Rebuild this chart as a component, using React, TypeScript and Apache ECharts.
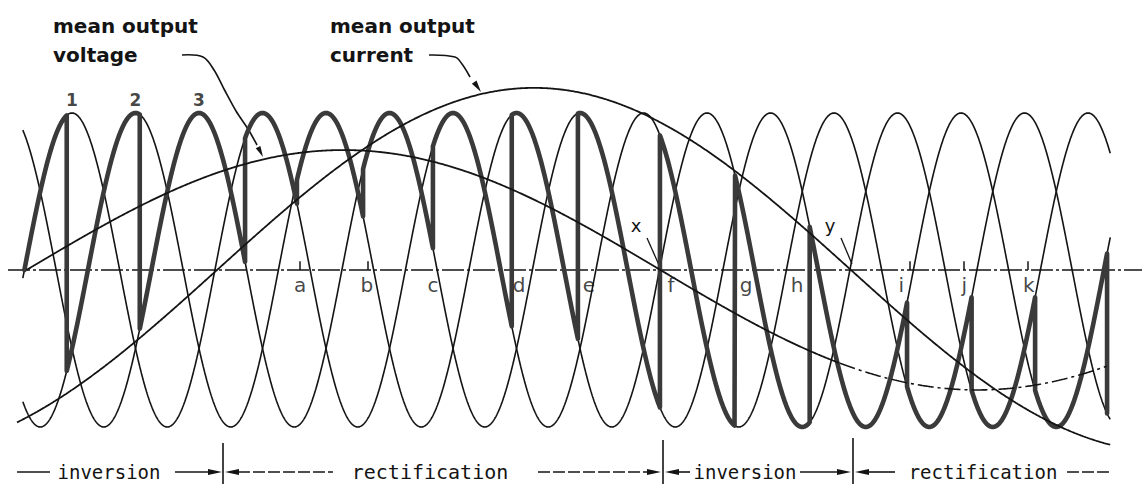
import React, { useEffect, useRef } from "react";
import * as echarts from "echarts";

// Three-phase supply, unit amplitude; abscissa in supply electrical degrees
const PHASE_LAG_DEG = [0, 120, 240];
const PHASE_SPAN_DEG = [-3, 2052];
const PEAK_LABELS = ["1", "2", "3"];
const PEAK_LABEL_DEG = [90, 210, 330];
const PEAK_LABEL_LEVEL = 1.08;

// Cycloconverter output: phase conducting between successive firing instants
const OUTPUT_PHASE = [0, 1, 2, 0, 1, 2, 0, 1, 2, 0, 1, 2, 0, 1, 2, 0];
const OUTPUT_SWITCH_DEG = [0, 80, 218, 417, 515, 640, 772, 921, 1046, 1201, 1343, 1484, 1668, 1790, 1910, 2046, 2046];

// Mean output voltage and current (low-frequency components)
const OUTPUT_HALF_PERIOD_DEG = 1198;
const VOLTAGE_AMPLITUDE = 0.764;
const VOLTAGE_ZERO_DEG = 4;
const VOLTAGE_SPAN_DEG = [4, 1541, 2046];
const CURRENT_AMPLITUDE = 1.16;
const CURRENT_ZERO_DEG = 364;
const CURRENT_SPAN_DEG = [-14, 2052];

// Reference axis, instants marked along it
const AXIS_SPAN_DEG = [-31, 2112];
const POINT_LABELS = ["a", "b", "c", "d", "e", "f", "g", "h", "i", "j", "k"];
const POINT_LABEL_DEG = [521, 647, 772, 935, 1067, 1222, 1364, 1460, 1657, 1776, 1898];
const POINT_LABEL_LEVEL = -0.098;
const TICK_DEG = [521, 649, 1673, 1776, 1897];

const X_MIN = -46.11;
const X_MAX = 2112.0;
const Y_MIN = -1.3631;
const Y_MAX = 1.7197;

const INK = "#141414";
const BOLD_INK = "#3a3a3a";

const RAD = Math.PI / 180;
const phaseValue = (k: number, t: number) => Math.sin((t - PHASE_LAG_DEG[k]) * RAD);
const meanVoltage = (t: number) =>
  VOLTAGE_AMPLITUDE * Math.sin((Math.PI * (t - VOLTAGE_ZERO_DEG)) / OUTPUT_HALF_PERIOD_DEG);
const meanCurrent = (t: number) =>
  CURRENT_AMPLITUDE * Math.sin((Math.PI * (t - CURRENT_ZERO_DEG)) / OUTPUT_HALF_PERIOD_DEG);

function sample(f: (t: number) => number, from: number, to: number, step = 1): number[][] {
  const pts: number[][] = [];
  for (let t = from; t < to; t += step) pts.push([t, f(t)]);
  pts.push([to, f(to)]);
  return pts;
}

function buildOutput(): number[][] {
  const pts: number[][] = [];
  for (let s = 0; s < OUTPUT_PHASE.length; s++) {
    const k = OUTPUT_PHASE[s];
    pts.push(...sample((t) => phaseValue(k, t), OUTPUT_SWITCH_DEG[s], OUTPUT_SWITCH_DEG[s + 1]));
  }
  return pts;
}

const TEXT_TOP = 'bold 20px "DejaVu Sans"';
const TEXT_BOTTOM = '19px "DejaVu Sans Mono"';

function text(str: string, x: number, y: number, font: string, align = "left") {
  return {
    type: "text",
    x,
    y,
    silent: true,
    style: {
      text: str,
      font,
      fill: INK,
      align,
      verticalAlign: "middle",
      textAlign: align,
      textVerticalAlign: "middle",
    },
  };
}

function seg(x1: number, y1: number, x2: number, y2: number, width = 1.5, dash?: number[]) {
  return {
    type: "line",
    silent: true,
    shape: { x1, y1, x2, y2 },
    style: { stroke: INK, lineWidth: width, lineDash: dash },
  };
}

function arrowHead(tipX: number, tipY: number, dx: number, dy: number, len = 12, half = 3) {
  const n = Math.hypot(dx, dy);
  const ux = dx / n;
  const uy = dy / n;
  const bx = tipX - ux * len;
  const by = tipY - uy * len;
  return {
    type: "polygon",
    silent: true,
    shape: {
      points: [
        [tipX, tipY],
        [bx - uy * half, by + ux * half],
        [bx + uy * half, by - ux * half],
      ],
    },
    style: { fill: INK },
  };
}

function leader(points: number[][]) {
  return {
    type: "polyline",
    silent: true,
    shape: { points, smooth: 0.35 },
    style: { stroke: INK, lineWidth: 1.6, fill: null },
  };
}

function buildGraphic() {
  const yRow = 472;
  return [
    // annotations above the waveforms
    text("mean output", 53, 26, TEXT_TOP),
    text("voltage", 53, 55, TEXT_TOP),
    text("mean output", 330, 26, TEXT_TOP),
    text("current", 330, 55, TEXT_TOP),
    leader([
      [182, 55],
      [203, 57],
      [214, 70],
      [224, 89],
      [236, 111],
      [248, 129],
      [257, 145],
    ]),
    arrowHead(263, 157, 6, 12, 11, 2.6),
    leader([
      [429, 55],
      [455, 57],
      [462, 64],
      [470, 77],
    ]),
    arrowHead(481, 92, 11, 16, 12, 2.8),
    text("x", 636, 225, '18px "DejaVu Sans"', "center"),
    seg(647, 238, 659, 265, 1.3),
    text("y", 830, 225, '18px "DejaVu Sans"', "center"),
    seg(841, 238, 852, 264, 1.3),

    // operating modes along the bottom
    seg(17, yRow, 50, yRow, 1.6),
    text("inversion", 109, yRow, TEXT_BOTTOM, "center"),
    seg(175, yRow, 212, yRow, 1.6),
    arrowHead(222, yRow, 1, 0, 14, 3),
    seg(223, 443, 223, 484, 1.6),
    arrowHead(225, yRow, -1, 0, 14, 3),
    seg(238, yRow, 333, yRow, 1.4, [12, 3]),
    text("rectification", 430, yRow, '20px "DejaVu Sans Mono"', "center"),
    seg(538, yRow, 650, yRow, 1.4, [12, 3]),
    arrowHead(661, yRow, 1, 0, 14, 3),
    seg(663, 440, 663, 484, 1.6),
    arrowHead(665, yRow, -1, 0, 14, 3),
    seg(678, yRow, 690, yRow, 1.6),
    text("inversion", 745, yRow, TEXT_BOTTOM, "center"),
    seg(800, yRow, 840, yRow, 1.6),
    arrowHead(851, yRow, 1, 0, 14, 3),
    seg(853, 438, 853, 484, 1.6),
    arrowHead(855, yRow, -1, 0, 14, 3),
    seg(868, yRow, 895, yRow, 1.6),
    text("rectification", 983, yRow, TEXT_BOTTOM, "center"),
    seg(1067, yRow, 1112, yRow, 1.4, [12, 3]),
  ];
}

function buildOption() {
  const thin = { color: INK, width: 1.6 };
  const series: any[] = [];

  PHASE_LAG_DEG.forEach((_, k) => {
    series.push({
      name: `phase ${PEAK_LABELS[k]}`,
      type: "line",
      showSymbol: false,
      silent: true,
      smooth: false,
      data: sample((t) => phaseValue(k, t), PHASE_SPAN_DEG[0], PHASE_SPAN_DEG[1]),
      lineStyle: thin,
      z: 2,
    });
  });

  series.push({
    name: "output voltage",
    type: "line",
    showSymbol: false,
    silent: true,
    data: buildOutput(),
    lineStyle: { color: BOLD_INK, width: 4.6, join: "round", cap: "round" },
    z: 3,
  });

  series.push({
    name: "mean output voltage",
    type: "line",
    showSymbol: false,
    silent: true,
    data: sample(meanVoltage, VOLTAGE_SPAN_DEG[0], VOLTAGE_SPAN_DEG[1]),
    lineStyle: { color: INK, width: 1.8 },
    z: 4,
  });
  series.push({
    name: "mean output voltage (continued)",
    type: "line",
    showSymbol: false,
    silent: true,
    data: sample(meanVoltage, VOLTAGE_SPAN_DEG[1], VOLTAGE_SPAN_DEG[2]),
    lineStyle: { color: INK, width: 1.6, type: [16, 4, 3, 4] },
    z: 4,
  });
  series.push({
    name: "mean output current",
    type: "line",
    showSymbol: false,
    silent: true,
    data: sample(meanCurrent, CURRENT_SPAN_DEG[0], CURRENT_SPAN_DEG[1]),
    lineStyle: { color: INK, width: 1.8 },
    z: 4,
  });

  series.push({
    name: "axis",
    type: "line",
    showSymbol: false,
    silent: true,
    data: [
      [AXIS_SPAN_DEG[0], 0],
      [AXIS_SPAN_DEG[1], 0],
    ],
    lineStyle: { color: INK, width: 1.5, type: [22, 3, 3, 3] },
    z: 1,
  });

  series.push({
    name: "ticks",
    type: "lines",
    coordinateSystem: "cartesian2d",
    silent: true,
    data: TICK_DEG.map((t) => ({ coords: [[t, 0], [t, 0.055]] })),
    lineStyle: { color: INK, width: 1.5, opacity: 1 },
    z: 4,
  });

  series.push({
    name: "instants",
    type: "scatter",
    silent: true,
    symbolSize: 1,
    itemStyle: { color: "rgba(0,0,0,0)" },
    data: POINT_LABELS.map((s, i) => ({ name: s, value: [POINT_LABEL_DEG[i], POINT_LABEL_LEVEL] })),
    label: {
      show: true,
      position: "inside",
      formatter: (p: any) => p.name,
      color: INK,
      fontSize: 20,
      fontFamily: "DejaVu Sans",
    },
    z: 5,
  });

  series.push({
    name: "phase numbers",
    type: "scatter",
    silent: true,
    symbolSize: 1,
    itemStyle: { color: "rgba(0,0,0,0)" },
    data: PEAK_LABELS.map((s, i) => ({ name: s, value: [PEAK_LABEL_DEG[i], PEAK_LABEL_LEVEL] })),
    label: {
      show: true,
      position: "inside",
      formatter: (p: any) => p.name,
      color: INK,
      fontSize: 17,
      fontWeight: "bold",
      fontFamily: "DejaVu Sans",
    },
    z: 5,
  });

  return {
    animation: false,
    backgroundColor: "#ffffff",
    grid: { left: 0, right: 0, top: 0, bottom: 0 },
    xAxis: { type: "value", min: X_MIN, max: X_MAX, show: false },
    yAxis: { type: "value", min: Y_MIN, max: Y_MAX, show: false },
    series,
    graphic: buildGraphic(),
  };
}

export default function App() {
  const ref = useRef<HTMLDivElement>(null);
  useEffect(() => {
    if (!ref.current) return;
    const chart = echarts.init(ref.current, undefined, { renderer: "svg" });
    chart.setOption(buildOption() as any);
    return () => chart.dispose();
  }, []);
  return (
    <div
      ref={ref}
      style={{ position: "fixed", left: 0, top: 0, width: 1142, height: 484, background: "#fff" }}
    />
  );
}
